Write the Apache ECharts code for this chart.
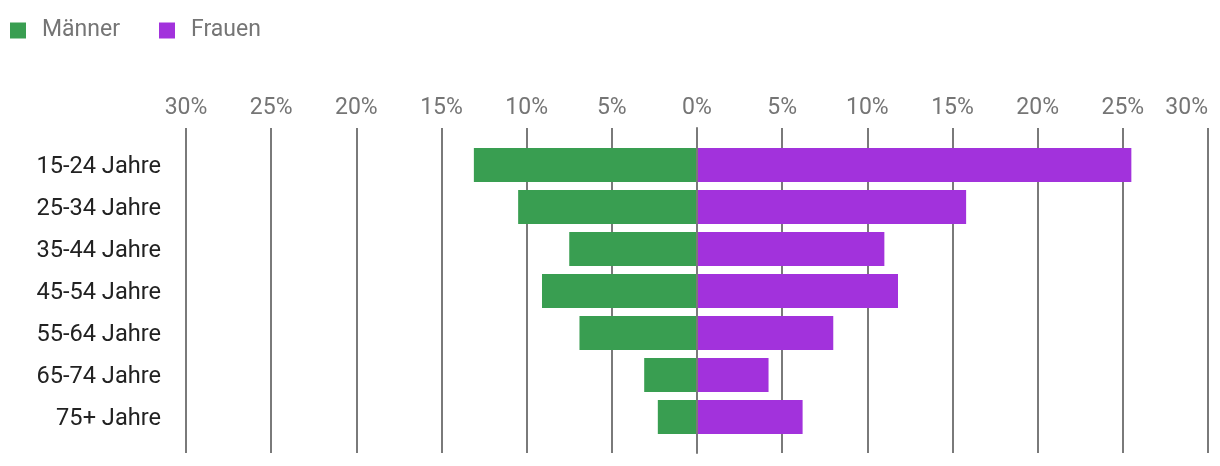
<!DOCTYPE html>
<html>
<head>
<meta charset="utf-8">
<script src="https://cdn.jsdelivr.net/npm/echarts@6/dist/echarts.min.js"></script>
<style>
html,body{margin:0;padding:0;background:#fff;}
#chart{width:1220px;height:466px;}
</style>
</head>
<body>
<div id="chart"></div>
<script>
const categories = ['15-24 Jahre','25-34 Jahre','35-44 Jahre','45-54 Jahre','55-64 Jahre','65-74 Jahre','75+ Jahre'];
const maenner = [13.1, 10.5, 7.5, 9.1, 6.9, 3.1, 2.3];
const frauen = [25.5, 15.8, 11.0, 11.8, 8.0, 4.2, 6.2];
const seriesNames = ['Männer', 'Frauen'];
const colors = ['#399e51', '#a232dc'];

const chart = echarts.init(document.getElementById('chart'), null, {renderer:'canvas'});
const font = 'Roboto, "Noto Sans", sans-serif';
chart.setOption({
  animation: false,
  textStyle: {fontFamily: font},
  legend: {
    left: 10, top: 19, padding: 0,
    itemWidth: 16, itemHeight: 16, itemGap: 39,
    icon: 'rect',
    data: seriesNames,
    textStyle: {fontSize: 23, color: '#757575', fontFamily: font, padding: [0,0,0,11]}
  },
  grid: [
    {left: 186, right: 12, top: 144, height: 294},
    {left: 186, right: 12, top: 128, bottom: 13}
  ],
  xAxis: [
    {gridIndex: 0, type: 'value', min: -30, max: 30, interval: 5, show: false},
    {gridIndex: 1, type: 'value', min: -30, max: 30, interval: 5, position: 'top',
     axisLine: {show: false}, axisTick: {show: false},
     axisLabel: {fontSize: 23, color: '#757575', fontFamily: font, margin: 8,
       alignMaxLabel: 'right',
       formatter: v => Math.abs(v) + '%'},
     splitLine: {show: true, lineStyle: {color: '#7a7a7a', width: 2}}}
  ],
  yAxis: [
    {gridIndex: 0, type: 'category', data: categories, inverse: true,
     axisLine: {show: false}, axisTick: {show: false},
     position: 'left',
     axisLabel: {margin: 25, formatter: v => '{a|' + v + '}',
       rich: {a: {fontSize: 23.6, color: '#222', fontFamily: font, padding: [5,0,0,0]}}}},
    {gridIndex: 1, type: 'value', z: 10, axisLabel: {show: false}, axisTick: {show: false},
     splitLine: {show: false},
     axisLine: {show: true, onZero: true, lineStyle: {color: '#7a7a7a', width: 2}}}
  ],
  series: [
    {name: seriesNames[0], type: 'bar', stack: 'a', xAxisIndex: 0, yAxisIndex: 0, barWidth: 34,
     itemStyle: {color: colors[0]}, data: maenner.map(v => -v)},
    {name: seriesNames[1], type: 'bar', stack: 'a', xAxisIndex: 0, yAxisIndex: 0, barWidth: 34,
     itemStyle: {color: colors[1]}, data: frauen}
  ]
});
</script>
</body>
</html>
